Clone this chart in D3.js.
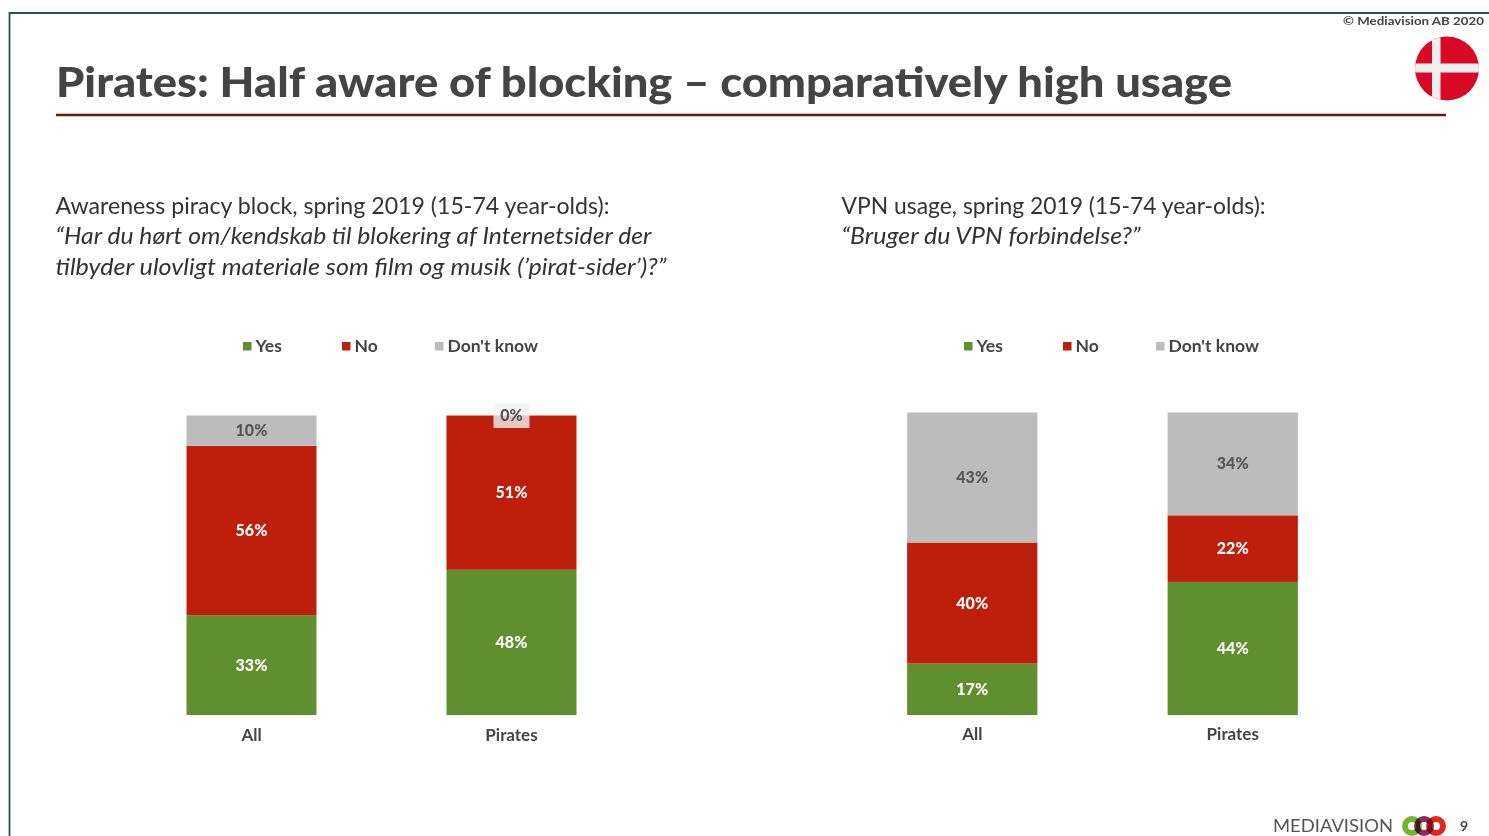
<!DOCTYPE html>
<html>
<head>
<meta charset="utf-8">
<script src="https://cdnjs.cloudflare.com/ajax/libs/d3/7.8.5/d3.min.js"></script>
<style>
  html, body { margin: 0; padding: 0; background: #fff; overflow: hidden; }
  text { font-family: Lato, sans-serif; fill: #444; }
  .label { font-weight: 900; font-size: 16px; }
  .note { font-size: 23px; fill: #333; }
</style>
</head>
<body>
<svg id="chart" width="1489" height="836"></svg>
<script>
const series = ['Yes', 'No', "Don't know"];
const groups = ['All', 'Pirates'];
const seriesColors = ['#5f8f2f', '#be1e0c', '#bcbcbc'];

// values per group, same order as series
const blockAll = [33, 56, 10];
const blockPirates = [48, 51, 0];
const vpnAll = [17, 40, 43];
const vpnPirates = [44, 22, 34];

const svg = d3.select('#chart');

// slide frame
svg.append('path')
    .attr('d', 'M9.5,836V13H1489')
    .attr('fill', 'none')
    .attr('stroke', '#2a4f5c')
    .attr('stroke-width', 1.8);

svg.append('text')
    .attr('x', 56)
    .attr('y', 97)
    .attr('font-size', 41)
    .attr('font-weight', 900)
    .attr('textLength', 1176)
    .attr('lengthAdjust', 'spacingAndGlyphs')
    .text('Pirates: Half aware of blocking – comparatively high usage');

svg.append('line')
    .attr('x1', 56)
    .attr('x2', 1446)
    .attr('y1', 115)
    .attr('y2', 115)
    .attr('stroke', '#6e1610')
    .attr('stroke-width', 2.5);

svg.append('text')
    .attr('x', 1343)
    .attr('y', 25)
    .attr('font-size', 12)
    .attr('font-weight', 700)
    .attr('textLength', 141)
    .attr('lengthAdjust', 'spacingAndGlyphs')
    .text('© Mediavision AB 2020');

// flag
const flag = svg.append('g');
flag.append('clipPath').attr('id', 'flagClip')
    .append('circle').attr('cx', 1447).attr('cy', 68.5).attr('r', 32);
flag.append('circle').attr('cx', 1447).attr('cy', 68.5).attr('r', 32).attr('fill', '#d90824');
flag.append('rect').attr('x', 1432).attr('y', 36).attr('width', 8.5).attr('height', 65)
    .attr('fill', '#efefef').attr('clip-path', 'url(#flagClip)');
flag.append('rect').attr('x', 1415).attr('y', 63.5).attr('width', 64).attr('height', 9)
    .attr('fill', '#efefef').attr('clip-path', 'url(#flagClip)');

// question texts
function noteLines(x, lines) {
  lines.forEach(function(d) {
    svg.append('text')
        .attr('class', 'note')
        .attr('x', x)
        .attr('y', d.y)
        .attr('font-style', d.italic ? 'italic' : 'normal')
        .attr('textLength', d.w)
        .attr('lengthAdjust', 'spacingAndGlyphs')
        .text(d.text);
  });
}

noteLines(55.5, [
  {y: 213.5, w: 554, text: 'Awareness piracy block, spring 2019 (15-74 year-olds):'},
  {y: 244, w: 596, italic: true, text: '“Har du hørt om/kendskab til blokering af Internetsider der'},
  {y: 274.5, w: 611, italic: true, text: 'tilbyder ulovligt materiale som film og musik (’pirat-sider’)?”'},
]);
noteLines(841.5, [
  {y: 213.5, w: 424, text: 'VPN usage, spring 2019 (15-74 year-olds):'},
  {y: 244, w: 299, italic: true, text: '“Bruger du VPN forbindelse?”'},
]);

const y = d3.scaleLinear().domain([0, 100]).range([715, 412.5]);

function drawPanel(opts) {
  const x = d3.scaleBand()
      .domain(groups)
      .range(opts.range)
      .paddingInner(0.5)
      .paddingOuter(0.25);

  const rows = groups.map(function(g, i) {
    const row = {group: g};
    series.forEach(function(s, j) {
      row[s] = opts.values[i][j];
    });
    return row;
  });

  const stacked = d3.stack().keys(series)(rows);

  const layer = svg.append('g').selectAll('g')
      .data(stacked)
      .join('g')
      .attr('fill', (d, i) => seriesColors[i]);

  layer.selectAll('rect')
      .data((d) => d)
      .join('rect')
      .attr('x', (d) => x(d.data.group))
      .attr('y', (d) => y(d[1]))
      .attr('width', x.bandwidth())
      .attr('height', (d) => y(d[0]) - y(d[1]));

  // value labels
  stacked.forEach(function(s, i) {
    s.forEach(function(d) {
      const value = d[1] - d[0];
      const cx = x(d.data.group) + x.bandwidth() / 2;
      const cy = (y(d[0]) + y(d[1])) / 2;
      if (value === 0) {
        // 0% label keeps its pale box over the red bar
        svg.append('rect')
            .attr('x', cx - 18)
            .attr('y', cy - 12.5)
            .attr('width', 36)
            .attr('height', 25)
            .attr('fill', '#f2f2f2')
            .attr('opacity', 0.8);
      }
      svg.append('text')
          .attr('class', 'label')
          .attr('x', cx)
          .attr('y', cy + 5.5)
          .attr('text-anchor', 'middle')
          .style('fill', i === 2 ? '#555' : '#fff')
          .text(value + '%');
    });
  });

  // category axis, no line or ticks
  const axis = svg.append('g')
      .attr('transform', 'translate(0,' + opts.axisY + ')')
      .call(d3.axisBottom(x).tickSize(0).tickPadding(0));
  axis.select('.domain').remove();
  axis.selectAll('text')
      .attr('font-family', null)
      .style('font-size', '17px')
      .style('font-weight', 700)
      .style('fill', '#444');

  // legend
  const legend = svg.append('g').selectAll('g')
      .data(series)
      .join('g')
      .attr('transform', (d, i) => 'translate(' + opts.legendX[i] + ',346)');
  legend.append('rect')
      .attr('y', -4)
      .attr('width', 8.5)
      .attr('height', 8.5)
      .attr('fill', (d, i) => seriesColors[i]);
  legend.append('text')
      .attr('x', 12.5)
      .attr('y', 6)
      .attr('font-size', 17.5)
      .attr('font-weight', 700)
      .text((d) => d);
}

drawPanel({
  range: [121.5, 641.5],
  values: [blockAll, blockPirates],
  axisY: 729,
  legendX: [243, 342, 435],
});

drawPanel({
  range: [842, 1363],
  values: [vpnAll, vpnPirates],
  axisY: 728,
  legendX: [964, 1063, 1156],
});

// footer logo
svg.append('text')
    .attr('x', 1273)
    .attr('y', 832)
    .attr('font-size', 18)
    .attr('textLength', 120)
    .attr('lengthAdjust', 'spacingAndGlyphs')
    .style('fill', '#555')
    .text('MEDIAVISION');

const logo = svg.append('g').attr('fill', 'none').attr('stroke-width', 6);
logo.append('circle').attr('cx', 1412).attr('cy', 826).attr('r', 7).attr('stroke', '#77b52e');
logo.append('circle').attr('cx', 1424).attr('cy', 826).attr('r', 7).attr('stroke', '#8a2a66')
    .style('mix-blend-mode', 'multiply');
logo.append('circle').attr('cx', 1436).attr('cy', 826).attr('r', 7).attr('stroke', '#e5261c')
    .style('mix-blend-mode', 'multiply');

svg.append('text')
    .attr('x', 1460)
    .attr('y', 831)
    .attr('font-size', 14)
    .attr('font-weight', 700)
    .text('9');
</script>
</body>
</html>
